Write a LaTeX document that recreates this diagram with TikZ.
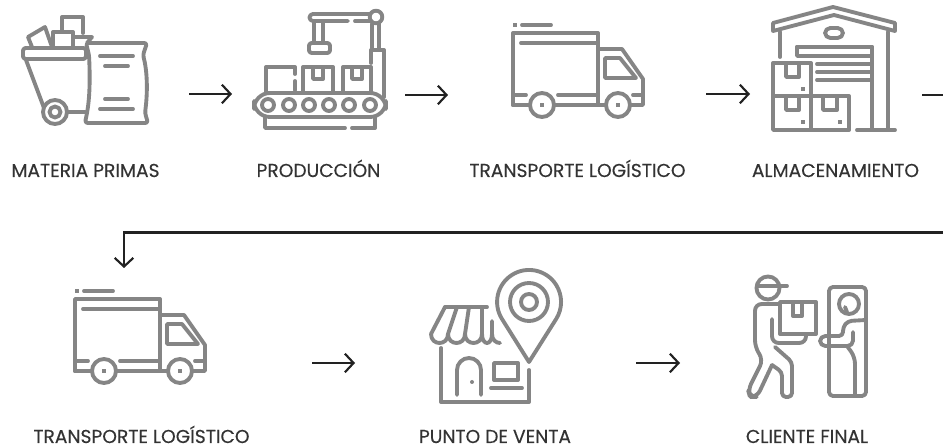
\documentclass[tikz,border=0pt]{standalone}
\usepackage{fontspec}
\setmainfont[FakeBold=0.25]{Poppins}
\usetikzlibrary{arrows.meta}
\definecolor{icongray}{HTML}{858585}
\definecolor{labelink}{HTML}{333333}
\definecolor{arrowink}{HTML}{222222}
\tikzset{
  icon/.style={draw=icongray,line width=2.9pt,line join=round,line cap=round},
  iconfill/.style={fill=icongray,draw=none},
  label/.style={font=\fontsize{14}{16}\selectfont,text=labelink,inner sep=0pt,anchor=base},
  flow/.style={draw=arrowink,line width=1.6pt,-{Straight Barb[length=6.5pt,width=14pt,line width=1.6pt]}},
  flowplain/.style={draw=arrowink,line width=1.6pt},
}
\newcommand{\truckicon}[2]{%
\begin{scope}[shift={(#1,#2)}]
  \fill[iconfill] (0,-10) rectangle (4,-6);
  \draw[icon] (9,-8) -- (38,-8);
  \draw[icon] (0,72) -- (0,0) -- (85,0) -- (85,72);
  \draw[icon] (8,10) -- (83,10);
  \draw[icon] (85,16) -- (109,16) -- (130,46) -- (130,72) -- (117,72);
  \draw[icon] (92,25) -- (107,25) -- (123,45) -- (92,45) -- cycle;
  \draw[icon] (0,72) -- (17,72);
  \draw[icon] (41,72) -- (93,72);
  \draw[icon] (0,62) -- (13,62);
  \draw[icon] (45,62) -- (83,62);
  \draw[icon] (120,62) -- (128,62);
  \draw[icon] (29,72) circle[radius=12];
  \draw[icon] (105,72) circle[radius=12];
  \fill[iconfill] (27,70) rectangle (31,74);
  \fill[iconfill] (103,70) rectangle (107,74);
\end{scope}}
\begin{document}
\begin{tikzpicture}[x=0.75pt,y=-0.75pt]
\useasboundingbox (0,0) rectangle (943,448);
\fill[white] (0,0) rectangle (943,448);

% materia primas
\draw[icon] (32,47) -- (28,37) -- (45,27) -- (52,47);
\draw[icon] (62,30) -- (62,17) -- (83,17) -- (83,33);
\draw[icon] (53,47) -- (53,32) -- (73,32) -- (73,47);
\draw[icon] (75,37) -- (92,37) -- (87,43);
\draw[icon,rounded corners=2pt] (23,48) rectangle (86,59);
\draw[icon] (26,60) -- (44,108);
\draw[icon] (68,112) -- (85,112);
\draw[icon] (55,112) circle[radius=12];
\draw[icon] (55,112) circle[radius=5.5];
\draw[icon,rounded corners=2pt] (86,43) -- (147,43) -- (143,55) .. controls (147,70) and (148,90) .. (145,113) -- (148,123) -- (85,123) -- (87,113) .. controls (90,95) and (90,75) .. (89,55) -- cycle;
\draw[icon] (100,56) -- (133,56);
\draw[icon] (105,66) -- (128,66);
\draw[icon] (105,99) -- (128,99);
\draw[icon] (100,109) -- (133,109);

% produccion
\draw[icon] (348,21) -- (313,21) arc[start angle=90,end angle=270,radius=3.5] -- (370,14);
\draw[icon] (355,21) -- (371,21);
\draw[icon] (376,17) circle[radius=6.3];
\draw[icon] (314,21) -- (314,43);
\draw[icon] (323,21) -- (323,43);
\draw[icon,rounded corners=2pt] (309,43) rectangle (330,53);
\draw[icon] (372,24) -- (372,50);
\draw[icon] (379,24) -- (379,50);
\draw[icon] (371,63) -- (371,50) -- (384,50) -- (384,97);
\draw[icon] (295,90) -- (295,81);
\draw[icon] (295,74) -- (295,67) -- (266,67) -- (266,92);
\draw[icon] (303,92) -- (303,67) -- (333,67) -- (333,92);
\draw[icon] (313,67) -- (313,79) -- (323,79) -- (323,67);
\draw[icon] (343,92) -- (343,67) -- (371,67) -- (371,92);
\draw[icon] (352,67) -- (352,79) -- (362,79) -- (362,67);
\draw[icon,rounded corners=12pt] (254,93) rectangle (386,117);
\foreach \rx in {268,289,309,329,349,370} {\draw[icon] (\rx,105) circle[radius=6];}
\draw[icon] (265,117) -- (265,128) -- (345,128);
\draw[icon] (352,128) -- (375,128) -- (375,117);

% transporte
\truckicon{513}{33}
\truckicon{75}{299}

% almacenamiento
\draw[icon] (773,23) -- (833,7) -- (895,23) -- (895,31) -- (834,15) -- (773,31) -- cycle;
\draw[icon,rounded corners=4pt] (825,28) rectangle (843,38);
\draw[icon] (780,32) -- (780,57);
\draw[icon] (888,32) -- (888,129);
\draw[icon] (872,47) -- (872,129);
\draw[icon] (857,130) -- (895,130);
\draw[icon] (797,47) -- (872,47);
\draw[icon] (797,47) -- (797,56) -- (871,56);
\draw[icon] (817,64) -- (871,64);
\draw[icon] (817,72) -- (871,72);
\draw[icon] (817,80) -- (871,80);
\draw[icon] (773,63) rectangle (811,96);
\draw[icon] (773,96) rectangle (811,130);
\draw[icon] (811,96) rectangle (849,130);
\draw[icon] (786,63) -- (786,77) -- (799,77) -- (799,63);
\draw[icon] (786,96) -- (786,110) -- (799,110) -- (799,96);
\draw[icon] (823,96) -- (823,110) -- (837,110) -- (837,96);
\fill[iconfill] (801,87) rectangle (805,91);
\fill[iconfill] (801,120) rectangle (805,124);
\fill[iconfill] (838,120) rectangle (842,124);

% punto de venta
\draw[icon] (529,362) -- (502,319) arc[start angle=147.8,end angle=392.2,radius=32] -- cycle;
\draw[icon] (529,302) circle[radius=19];
\draw[icon] (529,302) circle[radius=8];
\draw[icon] (487,307) -- (445,307);
\draw[icon] (445,307) -- (431,334);
\draw[icon] (457,307) -- (448,334);
\draw[icon] (469,307) -- (465,334);
\draw[icon] (482,307) -- (482,334);
\draw[icon] (492,321) -- (492,334) .. controls (492,340) and (496,343) .. (500,343);
\draw[icon] (431,334) .. controls (431,346) and (448,346) .. (448,334) .. controls (448,346) and (465,346) .. (465,334) .. controls (465,346) and (482,346) .. (482,334) .. controls (482,346) and (492,346) .. (492,334);
\draw[icon] (441,348) -- (441,402) -- (529,402) -- (529,370);
\draw[icon] (457,395) -- (457,370) arc[start angle=180,end angle=360,radius=12] -- (481,395);
\fill[iconfill] (472,382) circle[radius=2];
\draw[icon] (494,363) rectangle (518,380);
\draw[icon] (491,388) -- (522,388);

% cliente final
\draw[icon] (768,288) circle[radius=11.5];
\draw[icon] (757,286) -- (787,286);
\draw[icon,rounded corners=5pt] (780,304) -- (755,304) -- (755,347) -- (763,360) -- (748,390) -- (750,397) -- (757,397) -- (772,365);
\draw[icon,rounded corners=3pt] (772,365) -- (782,372) -- (782,397) -- (792,397) -- (792,362) -- (775,347);
\draw[icon,rounded corners=5pt] (772,319) -- (772,343) -- (806,343) -- (806,336);
\draw[icon] (780,302) -- (816,302) -- (816,334) -- (780,334) -- cycle;
\draw[icon] (793,302) -- (793,316) -- (802,316) -- (802,302);
\draw[icon,rounded corners=3pt] (829,287) rectangle (866,396);
\draw[icon] (849,304) circle[radius=10];
\draw[icon] (845,307) -- (847,312);
\draw[icon,rounded corners=3pt] (866,320) -- (848,321) -- (843,327) -- (843,336) -- (826,336);
\draw[icon,rounded corners=4pt] (826,336) -- (820,336) -- (820,346) -- (853,346) -- (853,332);
\draw[icon,rounded corners=5pt] (847,346) -- (855,357) -- (855,396);

% labels
\node[label] (lab1) at (85.5,177) {MATERIA PRIMAS};
\node[label] (lab2) at (318.5,177) {PRODUCCIÓN};
\node[label] (lab3) at (577.5,177) {TRANSPORTE LOGÍSTICO};
\node[label] (lab4) at (835.5,177) {ALMACENAMIENTO};
\node[label] (lab5) at (141.5,443) {TRANSPORTE LOGÍSTICO};
\node[label] (lab6) at (495,443) {PUNTO DE VENTA};
\node[label] (lab7) at (807,443) {CLIENTE FINAL};

% connectors
\coordinate (a1s) at (189,94); \coordinate (a1e) at (232,94);
\coordinate (a2s) at (405,95); \coordinate (a2e) at (448,95);
\coordinate (a3s) at (706,94); \coordinate (a3e) at (750,94);
\coordinate (l4s) at (922,95); \coordinate (l4e) at (943,95);
\coordinate (a5s) at (943,232.5); \coordinate (a5m) at (124,232.5); \coordinate (a5e) at (124,268);
\coordinate (a6s) at (312,363); \coordinate (a6e) at (355,363);
\coordinate (a7s) at (636,363); \coordinate (a7e) at (680,363);
\draw[flow] (a1s) -- (a1e);
\draw[flow] (a2s) -- (a2e);
\draw[flow] (a3s) -- (a3e);
\draw[flowplain] (l4s) -- (l4e);
\draw[flow] (a5s) -- (a5m) -- (a5e);
\draw[flow] (a6s) -- (a6e);
\draw[flow] (a7s) -- (a7e);
\end{tikzpicture}
\end{document}
